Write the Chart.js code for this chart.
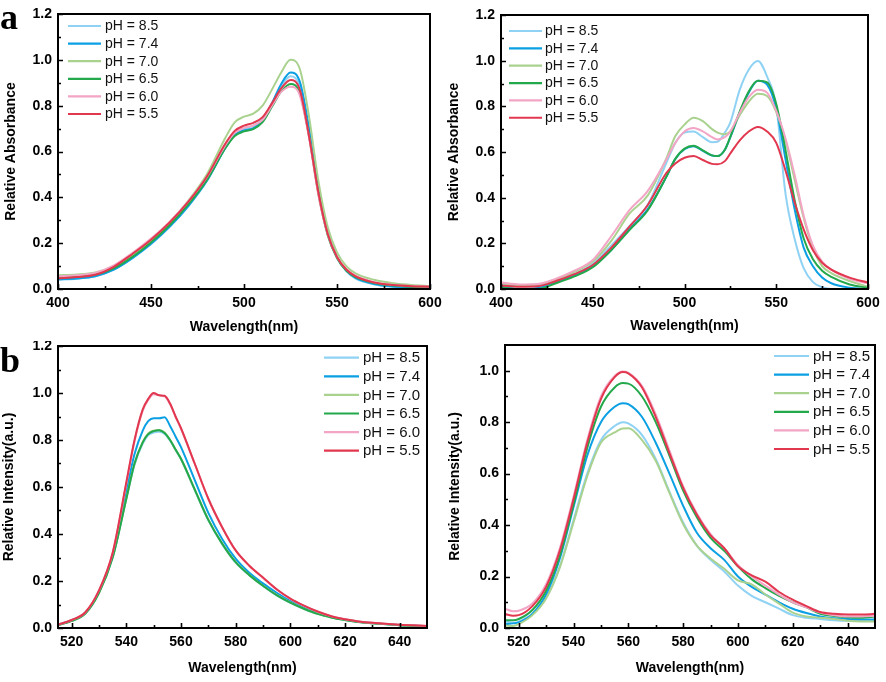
<!DOCTYPE html>
<html>
<head>
<meta charset="utf-8">
<script src="https://cdn.jsdelivr.net/npm/chart.js@4.4.1/dist/chart.umd.min.js"></script>
<style>
  body { margin: 0; background: #fff; }
  #fig { position: relative; width: 886px; height: 682px; overflow: hidden; }
  canvas { position: absolute; }
  .tag { position: absolute; font: bold 36px "Liberation Serif", serif; line-height: 36px; color: #000; }
</style>
</head>
<body>
<div id="fig">
  <canvas id="absLeft" width="443" height="341" style="left:0;top:0"></canvas>
  <canvas id="absRight" width="443" height="341" style="left:443px;top:0"></canvas>
  <canvas id="emLeft" width="443" height="341" style="left:0;top:341px"></canvas>
  <canvas id="emRight" width="443" height="341" style="left:443px;top:341px"></canvas>
  <div class="tag" style="left:0;top:-1px">a</div>
  <div class="tag" style="left:0;top:342px">b</div>
</div>
<script>
// series labels, same order in every panel
const phLabels = ["pH = 8.5", "pH = 7.4", "pH = 7.0", "pH = 6.5", "pH = 6.0", "pH = 5.5"];

// (a) left: absorbance
const wlAbsLeft = [400,410,420,430,440,450,460,470,480,490,495,500,505,510,515,520,525,530,535,540,545,550,555,560,570,580,590,600];
const absL_85 = [0.04,0.045,0.055,0.085,0.135,0.195,0.27,0.36,0.47,0.615,0.675,0.70,0.712,0.74,0.81,0.885,0.928,0.885,0.69,0.43,0.24,0.135,0.078,0.045,0.02,0.01,0.006,0.004];
const absL_74 = [0.042,0.046,0.056,0.085,0.135,0.197,0.272,0.362,0.472,0.617,0.672,0.692,0.702,0.735,0.81,0.895,0.945,0.905,0.70,0.435,0.245,0.14,0.08,0.048,0.022,0.011,0.006,0.004];
const absL_70 = [0.06,0.063,0.072,0.1,0.15,0.212,0.29,0.385,0.5,0.66,0.727,0.752,0.765,0.80,0.87,0.945,1.0,0.96,0.75,0.47,0.27,0.16,0.1,0.068,0.04,0.025,0.018,0.013];
const absL_65 = [0.05,0.053,0.062,0.09,0.14,0.203,0.278,0.368,0.475,0.615,0.668,0.688,0.698,0.728,0.795,0.862,0.895,0.855,0.665,0.415,0.235,0.135,0.08,0.052,0.026,0.015,0.01,0.008];
const absL_60 = [0.055,0.06,0.07,0.103,0.157,0.22,0.293,0.382,0.488,0.628,0.682,0.703,0.713,0.738,0.80,0.86,0.883,0.845,0.66,0.41,0.24,0.14,0.087,0.058,0.03,0.018,0.013,0.01];
const absL_55 = [0.047,0.052,0.062,0.097,0.153,0.215,0.29,0.38,0.49,0.635,0.69,0.713,0.725,0.75,0.81,0.875,0.912,0.87,0.665,0.42,0.24,0.14,0.085,0.055,0.028,0.017,0.012,0.01];

// (a) right: absorbance
const wlAbsRight = [400,410,420,430,440,450,460,470,480,490,495,500,505,510,515,518,522,525,530,535,540,545,550,555,560,565,570,575,580,590,600];
const absR_85 = [0.02,0.012,0.015,0.035,0.065,0.11,0.19,0.275,0.37,0.55,0.64,0.685,0.69,0.665,0.643,0.645,0.685,0.73,0.87,0.96,0.998,0.93,0.8,0.42,0.22,0.09,0.03,0.008,0.0,0.0,0.0];
const absR_74 = [0.01,0.0,0.005,0.03,0.06,0.1,0.17,0.262,0.35,0.49,0.57,0.612,0.625,0.605,0.585,0.582,0.61,0.665,0.77,0.86,0.912,0.895,0.79,0.57,0.35,0.18,0.1,0.05,0.025,0.006,0.0];
const absR_70 = [0.025,0.018,0.02,0.04,0.075,0.12,0.21,0.33,0.41,0.57,0.67,0.72,0.75,0.735,0.70,0.685,0.678,0.69,0.76,0.82,0.855,0.845,0.775,0.65,0.48,0.31,0.18,0.1,0.07,0.035,0.01];
const absR_65 = [0.005,0.0,0.0,0.025,0.055,0.095,0.17,0.258,0.345,0.49,0.57,0.615,0.627,0.607,0.585,0.582,0.61,0.667,0.775,0.865,0.912,0.905,0.81,0.61,0.39,0.22,0.13,0.08,0.053,0.02,0.005];
const absR_60 = [0.028,0.02,0.022,0.045,0.08,0.127,0.23,0.345,0.43,0.565,0.64,0.69,0.705,0.69,0.665,0.655,0.665,0.69,0.77,0.84,0.873,0.86,0.78,0.66,0.5,0.32,0.19,0.12,0.085,0.045,0.025];
const absR_55 = [0.015,0.01,0.012,0.035,0.065,0.105,0.18,0.273,0.368,0.507,0.55,0.575,0.583,0.565,0.548,0.546,0.56,0.594,0.65,0.69,0.71,0.69,0.64,0.52,0.38,0.26,0.17,0.115,0.085,0.05,0.028];

// (b) left: emission
const wlEmLeft = [515,520,525,530,535,540,543,546,548,550,552,554,556,558,560,565,570,575,580,585,590,595,600,605,610,615,620,625,630,640,650];
const emL_85 = [0.012,0.03,0.062,0.15,0.3,0.55,0.695,0.785,0.82,0.832,0.835,0.826,0.797,0.758,0.718,0.588,0.458,0.358,0.278,0.224,0.179,0.139,0.107,0.081,0.06,0.045,0.034,0.025,0.02,0.012,0.007];
const emL_74 = [0.014,0.033,0.065,0.155,0.31,0.58,0.74,0.84,0.88,0.893,0.893,0.897,0.86,0.815,0.77,0.63,0.49,0.38,0.295,0.235,0.19,0.15,0.115,0.087,0.065,0.047,0.036,0.027,0.021,0.013,0.008];
const emL_70 = [0.012,0.03,0.062,0.15,0.302,0.552,0.70,0.792,0.828,0.84,0.843,0.832,0.8,0.76,0.72,0.59,0.462,0.36,0.28,0.226,0.18,0.141,0.109,0.082,0.06,0.045,0.034,0.025,0.02,0.012,0.007];
const emL_65 = [0.012,0.03,0.062,0.15,0.3,0.55,0.70,0.79,0.825,0.838,0.842,0.83,0.8,0.76,0.72,0.59,0.46,0.36,0.28,0.225,0.18,0.14,0.108,0.082,0.06,0.045,0.034,0.025,0.02,0.012,0.007];
const emL_60 = [0.014,0.034,0.067,0.16,0.32,0.615,0.795,0.925,0.97,0.995,0.99,0.985,0.952,0.9,0.848,0.70,0.55,0.43,0.33,0.265,0.213,0.164,0.124,0.094,0.069,0.05,0.037,0.028,0.022,0.014,0.009];
const emL_55 = [0.014,0.034,0.067,0.16,0.32,0.62,0.8,0.93,0.975,1.0,0.99,0.988,0.955,0.9,0.85,0.70,0.55,0.43,0.33,0.265,0.215,0.165,0.125,0.095,0.07,0.05,0.037,0.028,0.022,0.014,0.009];

// (b) right: emission
const wlEmRight = [515,518,520,525,530,535,540,545,550,555,558,560,565,570,575,580,585,590,595,600,605,610,615,620,625,630,635,640,645,650];
const emR_85 = [0.025,0.02,0.025,0.055,0.12,0.24,0.42,0.6,0.73,0.785,0.8,0.795,0.75,0.657,0.53,0.41,0.32,0.265,0.22,0.165,0.125,0.1,0.075,0.05,0.04,0.035,0.03,0.028,0.028,0.028];
const emR_74 = [0.015,0.018,0.022,0.055,0.13,0.27,0.47,0.67,0.8,0.86,0.874,0.87,0.82,0.72,0.6,0.475,0.37,0.31,0.265,0.2,0.16,0.13,0.1,0.075,0.058,0.045,0.038,0.035,0.033,0.033];
const emR_70 = [0.01,0.008,0.015,0.05,0.115,0.235,0.41,0.59,0.72,0.76,0.775,0.776,0.73,0.65,0.525,0.404,0.32,0.27,0.23,0.185,0.17,0.13,0.095,0.06,0.045,0.04,0.035,0.028,0.025,0.025];
const emR_65 = [0.03,0.03,0.035,0.07,0.145,0.28,0.48,0.70,0.86,0.935,0.952,0.95,0.9,0.80,0.67,0.534,0.43,0.35,0.3,0.24,0.19,0.155,0.125,0.1,0.08,0.055,0.047,0.042,0.04,0.045];
const emR_60 = [0.075,0.065,0.067,0.095,0.17,0.31,0.51,0.73,0.9,0.98,0.997,0.992,0.94,0.83,0.69,0.55,0.445,0.365,0.31,0.245,0.2,0.165,0.13,0.1,0.08,0.06,0.05,0.045,0.045,0.047];
const emR_55 = [0.054,0.048,0.05,0.085,0.16,0.3,0.5,0.72,0.89,0.975,0.995,0.99,0.935,0.82,0.68,0.545,0.44,0.36,0.31,0.24,0.205,0.18,0.14,0.11,0.085,0.062,0.055,0.052,0.052,0.055];

const lineColors = ["#8fd2f4", "#0b9fe3", "#aad28f", "#23a84b", "#f3a5c5", "#e2384f"];

Chart.defaults.font.family = '"Liberation Sans", Arial, sans-serif';
Chart.defaults.color = "#000";

// black box + inward major/minor ticks
const frameTicks = {
  id: "frameTicks",
  afterDatasetsDraw(chart) {
    const { ctx, chartArea: a, scales: { x, y } } = chart;
    ctx.save();
    ctx.strokeStyle = "#000";
    ctx.lineWidth = 1.6;
    const marks = (scale) => {
      const majors = scale.ticks.map(t => t.value);
      const step = majors[1] - majors[0];
      const out = majors.map(v => [v, 5]);
      for (let v = majors[0] - step / 2; v < scale.max; v += step) {
        if (v > scale.min + 1e-6 && v < scale.max - 1e-6) out.push([v, 3]);
      }
      return out;
    };
    ctx.beginPath();
    marks(x).forEach(([v, len]) => {
      const px = Math.round(x.getPixelForValue(v)) + 0.5;
      ctx.moveTo(px, a.bottom);
      ctx.lineTo(px, a.bottom - len);
    });
    marks(y).forEach(([v, len]) => {
      const py = Math.round(y.getPixelForValue(v)) + 0.5;
      ctx.moveTo(a.left, py);
      ctx.lineTo(a.left + len, py);
    });
    ctx.stroke();
    ctx.lineWidth = 2;
    ctx.strokeRect(a.left, a.top, a.right - a.left, a.bottom - a.top);
    ctx.restore();
  }
};

// legend drawn inside the plot like the original
const insideLegend = {
  id: "insideLegend",
  afterDraw(chart, args, opts) {
    const { ctx } = chart;
    ctx.save();
    ctx.font = opts.size + 'px "Liberation Sans", Arial, sans-serif';
    ctx.textBaseline = "middle";
    ctx.fillStyle = "#111";
    chart.data.datasets.forEach((ds, i) => {
      const yy = opts.y + i * opts.step;
      ctx.strokeStyle = ds.borderColor;
      ctx.lineWidth = 2.2;
      ctx.beginPath();
      ctx.moveTo(opts.x, yy);
      ctx.lineTo(opts.x + opts.len, yy);
      ctx.stroke();
      ctx.fillText(ds.label, opts.x + opts.len + opts.gap, yy + 0.5);
    });
    ctx.restore();
  }
};

function makeChart(id, wl, series, p) {
  const tickFont = { size: 14, weight: "bold" };
  const datasets = series.map((vals, i) => ({
    label: phLabels[i],
    data: wl.map((w, k) => ({ x: w, y: vals[k] })),
    borderColor: lineColors[i],
    borderWidth: 2,
    pointRadius: 0,
    cubicInterpolationMode: "monotone",
    order: series.length - i
  }));
  return new Chart(document.getElementById(id), {
    type: "line",
    data: { datasets },
    plugins: [frameTicks, insideLegend],
    options: {
      responsive: false,
      animation: false,
      layout: { padding: { left: 0, top: p.top, right: p.right, bottom: 0 }, autoPadding: false },
      plugins: {
        legend: { display: false },
        tooltip: { enabled: false },
        insideLegend: p.legend
      },
      scales: {
        x: {
          type: "linear",
          min: p.xmin, max: p.xmax,
          ticks: { stepSize: p.xstep, includeBounds: false, font: tickFont, padding: 6, maxRotation: 0, autoSkip: false },
          grid: { display: false, drawTicks: false },
          border: { display: false },
          title: { display: true, text: "Wavelength(nm)", font: tickFont, padding: { top: 0, bottom: p.xtPad } },
          afterFit(s) { s.height = p.xh; s.paddingLeft = 0; s.paddingRight = 0; }
        },
        y: {
          min: 0, max: p.ymax,
          ticks: { stepSize: 0.2, includeBounds: false, font: tickFont, padding: 6, callback: v => v.toFixed(1) },
          grid: { display: false, drawTicks: false },
          border: { display: false },
          title: { display: true, text: p.ytitle, font: tickFont, padding: { top: p.ytPad, bottom: 0 } },
          afterFit(s) { s.width = p.yw; s.paddingTop = 0; s.paddingBottom = 0; }
        }
      }
    }
  });
}

makeChart("absLeft", wlAbsLeft, [absL_85, absL_74, absL_70, absL_65, absL_60, absL_55], {
  top: 14, right: 13, xh: 52, yw: 58, xmin: 400, xmax: 600, xstep: 50, ymax: 1.2,
  ytitle: "Relative Absorbance", xtPad: 5, ytPad: 3,
  legend: { x: 68, y: 26, step: 17.6, len: 33, gap: 4, size: 14 }
});
makeChart("absRight", wlAbsRight, [absR_85, absR_74, absR_70, absR_65, absR_60, absR_55], {
  top: 15, right: 18, xh: 52, yw: 58, xmin: 400, xmax: 600, xstep: 50, ymax: 1.2,
  ytitle: "Relative Absorbance", xtPad: 6.5, ytPad: 3,
  legend: { x: 66, y: 31, step: 17.35, len: 33, gap: 3, size: 14 }
});
makeChart("emLeft", wlEmLeft, [emL_85, emL_74, emL_70, emL_65, emL_60, emL_55], {
  top: 5, right: 16, xh: 54, yw: 58, xmin: 515, xmax: 650, xstep: 20, ymax: 1.2,
  ytitle: "Relative Intensity(a.u.)", xtPad: 5.5, ytPad: 1,
  legend: { x: 324, y: 16.7, step: 18.6, len: 35, gap: 4, size: 15 }
});
makeChart("emRight", wlEmRight, [emR_85, emR_74, emR_70, emR_65, emR_60, emR_55], {
  top: 4, right: 11, xh: 54, yw: 62, xmin: 515, xmax: 650, xstep: 20, ymax: 1.1,
  ytitle: "Relative Intensity(a.u.)", xtPad: 5, ytPad: 4,
  legend: { x: 331, y: 15, step: 18.6, len: 35, gap: 4, size: 15 }
});
</script>
</body>
</html>
